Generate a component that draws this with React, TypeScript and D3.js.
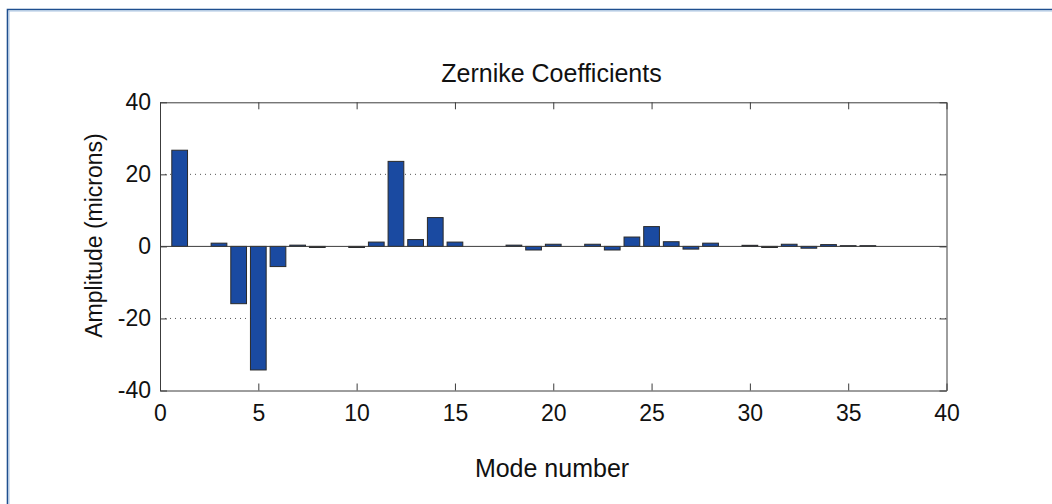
import { useRef, useEffect } from 'react';
import * as d3 from 'd3';

// Zernike coefficient amplitudes (microns), modes 1..36
const modes = d3.range(1, 37);
const amplitudes = [
    26.7, 0, 0.9, -15.9, -34.3, -5.6, 0.35, -0.3, 0, -0.3,
    1.2, 23.6, 1.9, 8.0, 1.2, 0, 0, 0.35, -1.0, 0.6,
    0, 0.6, -1.0, 2.6, 5.5, 1.3, -0.75, 0.9, 0, 0.3,
    -0.3, 0.6, -0.5, 0.5, 0.2, 0.2,
];
const xTicks = [0, 5, 10, 15, 20, 25, 30, 35, 40];
const yTicks = [-40, -20, 0, 20, 40];
const gridValues = [-20, 20];

const title = 'Zernike Coefficients';
const xLabel = 'Mode number';
const yLabel = 'Amplitude (microns)';

export default function App() {
    const svgRef = useRef<SVGSVGElement>(null);

    useEffect(() => {
        if (!svgRef.current) return;

        const width = 1052;
        const height = 504;
        const left = 160, right = 946.5, top = 102.3, bottom = 390.5;
        const font = '"Liberation Sans", Arial, Helvetica, sans-serif';
        const axisColor = '#3c3c3c';
        const textColor = '#111';

        const svg = d3.select(svgRef.current);
        svg.selectAll('*').remove();
        svg.attr('width', width).attr('height', height);

        svg.append('rect')
            .attr('width', width)
            .attr('height', height)
            .attr('fill', '#fff');

        // outer frame (only top and left edges visible)
        svg.append('path')
            .attr('d', `M7.5,${height} V9.5 H${width}`)
            .attr('fill', 'none')
            .attr('stroke', '#1f4f8f')
            .attr('stroke-width', 1.6);
        svg.append('path')
            .attr('d', `M9,${height} V11 H${width}`)
            .attr('fill', 'none')
            .attr('stroke', '#a9c4e2')
            .attr('stroke-width', 1);

        const x = d3.scaleLinear().domain([0, 40]).range([left, right]);
        const y = d3.scaleLinear().domain([-40, 40]).range([bottom, top]);
        const barW = (x(1) - x(0)) * 0.8;

        // dotted grid
        svg.append('g')
            .selectAll('line')
            .data(gridValues)
            .enter()
            .append('line')
            .attr('x1', left)
            .attr('x2', right)
            .attr('y1', d => y(d))
            .attr('y2', d => y(d))
            .attr('stroke', '#555')
            .attr('stroke-width', 1)
            .attr('stroke-dasharray', '1,4');

        // bars
        svg.append('g')
            .selectAll('rect')
            .data(modes)
            .enter()
            .append('rect')
            .attr('x', (d) => x(d) - barW / 2)
            .attr('y', (_d, i) => y(Math.max(0, amplitudes[i])))
            .attr('width', barW)
            .attr('height', (_d, i) => Math.abs(y(amplitudes[i]) - y(0)))
            .attr('fill', '#1a4aa1')
            .attr('stroke', '#2a2a2a')
            .attr('stroke-width', 1);

        // baseline
        svg.append('line')
            .attr('x1', left)
            .attr('x2', right)
            .attr('y1', y(0))
            .attr('y2', y(0))
            .attr('stroke', axisColor)
            .attr('stroke-width', 1);

        const styleAxis = (g: d3.Selection<SVGGElement, unknown, null, undefined>) => {
            g.select('.domain').attr('stroke', axisColor);
            g.selectAll('.tick line').attr('stroke', axisColor);
            g.selectAll('.tick text')
                .attr('fill', textColor)
                .attr('font-family', font)
                .attr('font-size', '23px');
        };
        const plain = (d: d3.NumberValue) => String(d);

        svg.append('g')
            .attr('transform', `translate(0,${bottom})`)
            .call(d3.axisBottom(x).tickValues(xTicks).tickFormat(plain).tickSize(-7).tickSizeOuter(0).tickPadding(14))
            .call(styleAxis);

        svg.append('g')
            .attr('transform', `translate(0,${top})`)
            .call(d3.axisTop(x).tickValues(xTicks).tickSize(-7).tickSizeOuter(0).tickFormat(() => ''))
            .call(styleAxis);

        svg.append('g')
            .attr('transform', `translate(${left},0)`)
            .call(d3.axisLeft(y).tickValues(yTicks).tickFormat(plain).tickSize(-7).tickSizeOuter(0).tickPadding(9))
            .call(styleAxis);

        svg.append('g')
            .attr('transform', `translate(${right},0)`)
            .call(d3.axisRight(y).tickValues(yTicks).tickSize(-7).tickSizeOuter(0).tickFormat(() => ''))
            .call(styleAxis);

        // title and labels
        svg.append('text')
            .attr('x', 551.5)
            .attr('y', 82)
            .attr('text-anchor', 'middle')
            .attr('font-family', font)
            .attr('font-size', '25px')
            .attr('fill', textColor)
            .text(title);

        svg.append('text')
            .attr('x', 552)
            .attr('y', 477)
            .attr('text-anchor', 'middle')
            .attr('font-family', font)
            .attr('font-size', '25px')
            .attr('fill', textColor)
            .text(xLabel);

        svg.append('text')
            .attr('transform', `translate(102,235.5) rotate(-90)`)
            .attr('text-anchor', 'middle')
            .attr('font-family', font)
            .attr('font-size', '23px')
            .attr('fill', textColor)
            .text(yLabel);
    }, []);

    return (
        <div style={{ position: 'absolute', left: 0, top: 0 }}>
            <svg ref={svgRef} style={{ display: 'block' }} />
        </div>
    );
}
